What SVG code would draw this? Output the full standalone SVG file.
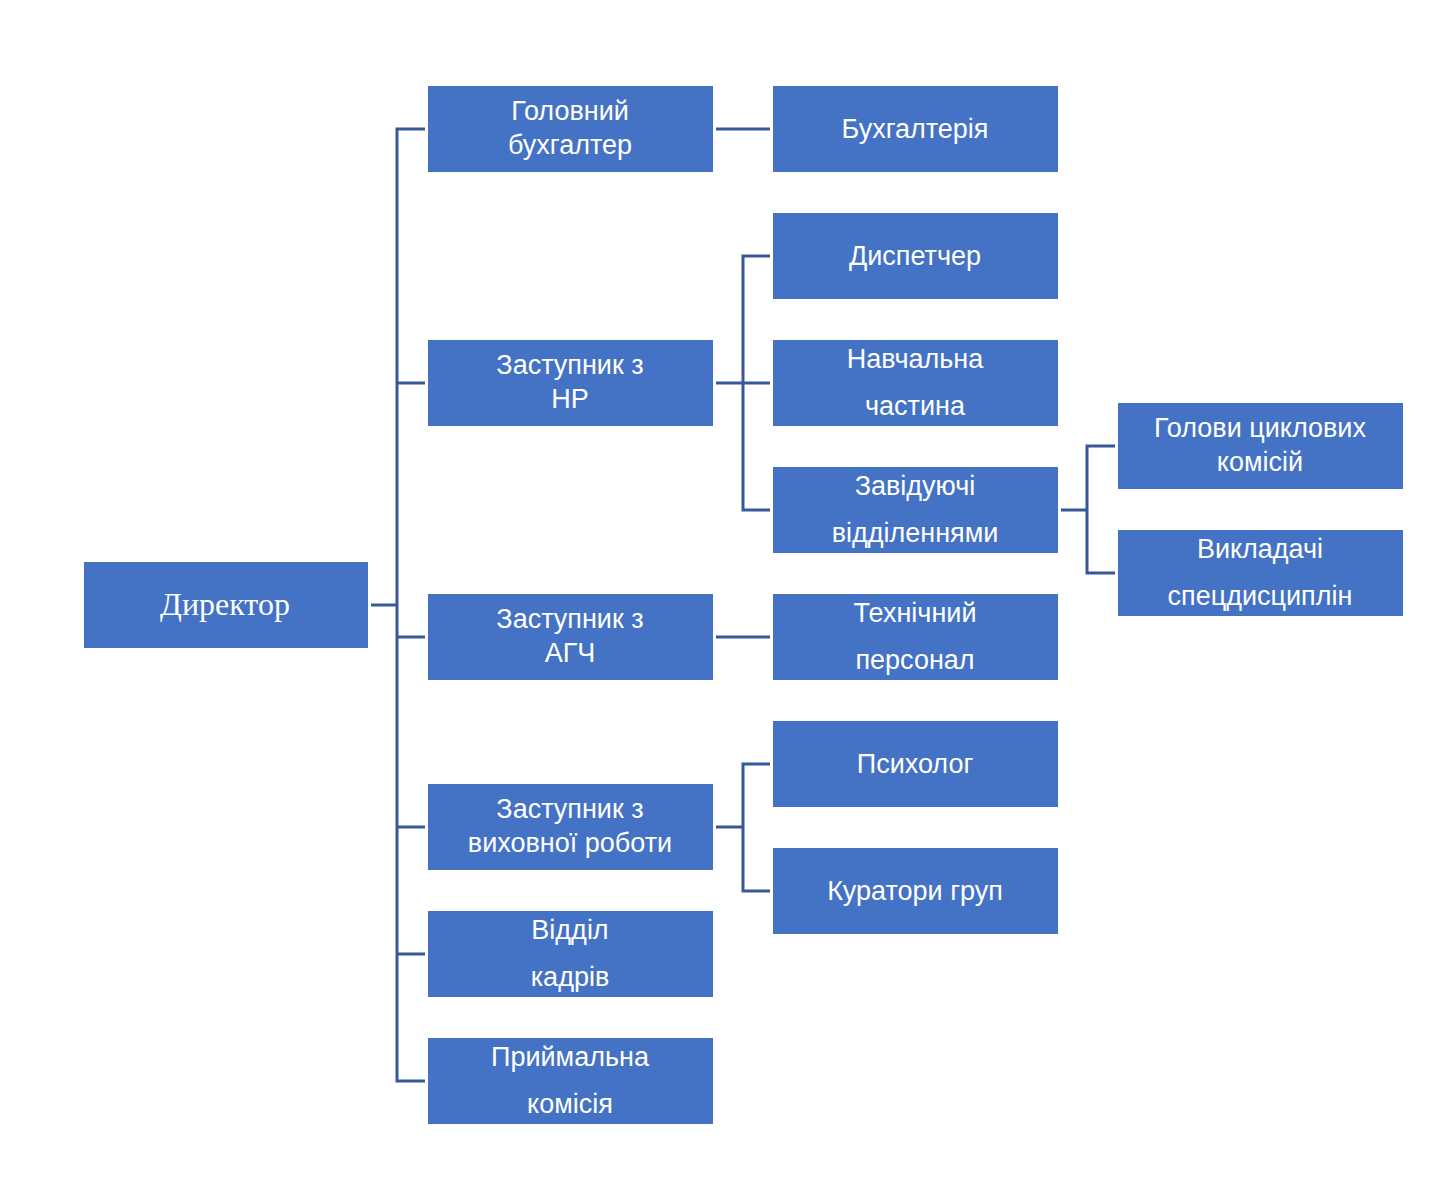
<svg xmlns="http://www.w3.org/2000/svg" width="1448" height="1178" viewBox="0 0 1448 1178">
<style>
.box{fill:#4472C4}
.t{font-family:"Liberation Sans",Arial,sans-serif;font-size:27px;fill:#fff;text-anchor:middle}
.s{font-family:"Liberation Serif","Times New Roman",serif;font-size:32px;fill:#fff;text-anchor:middle}
.c{fill:none;stroke:#36589A;stroke-width:3}
</style>
<rect width="1448" height="1178" fill="#fff"/>
<g id="connectors" class="c">
<path d="M371 605H397"/>
<path d="M425 129H397V1081H425"/>
<path d="M397 383H425M397 637H425M397 827H425M397 954H425"/>
<path d="M716 129H770"/>
<path d="M716 383H770M770 256H743V510H770"/>
<path d="M716 637H770"/>
<path d="M716 827H743M770 764H743V891H770"/>
<path d="M1061 510H1087M1115 446H1087V573H1115"/>
</g>
<g id="director"><rect class="box" x="84" y="562" width="284" height="86"/><text class="s" x="225" y="615">Директор</text></g>
<g id="chief-accountant"><rect class="box" x="428" y="86" width="285" height="86"/><text class="t" x="570" y="120">Головний</text><text class="t" x="570" y="154">бухгалтер</text></g>
<g id="accounting"><rect class="box" x="773" y="86" width="285" height="86"/><text class="t" x="915" y="138">Бухгалтерія</text></g>
<g id="dispatcher"><rect class="box" x="773" y="213" width="285" height="86"/><text class="t" x="915" y="265">Диспетчер</text></g>
<g id="deputy-nr"><rect class="box" x="428" y="340" width="285" height="86"/><text class="t" x="570" y="374">Заступник з</text><text class="t" x="570" y="408">НР</text></g>
<g id="study-part"><rect class="box" x="773" y="340" width="285" height="86"/><text class="t" x="915" y="368">Навчальна</text><text class="t" x="915" y="415">частина</text></g>
<g id="dept-heads"><rect class="box" x="773" y="467" width="285" height="86"/><text class="t" x="915" y="495">Завідуючі</text><text class="t" x="915" y="542">відділеннями</text></g>
<g id="commission-heads"><rect class="box" x="1118" y="403" width="285" height="86"/><text class="t" x="1260" y="437">Голови циклових</text><text class="t" x="1260" y="471">комісій</text></g>
<g id="teachers"><rect class="box" x="1118" y="530" width="285" height="86"/><text class="t" x="1260" y="558">Викладачі</text><text class="t" x="1260" y="605">спецдисциплін</text></g>
<g id="deputy-agch"><rect class="box" x="428" y="594" width="285" height="86"/><text class="t" x="570" y="628">Заступник з</text><text class="t" x="570" y="662">АГЧ</text></g>
<g id="tech-staff"><rect class="box" x="773" y="594" width="285" height="86"/><text class="t" x="915" y="622">Технічний</text><text class="t" x="915" y="669">персонал</text></g>
<g id="psychologist"><rect class="box" x="773" y="721" width="285" height="86"/><text class="t" x="915" y="773">Психолог</text></g>
<g id="deputy-edu"><rect class="box" x="428" y="784" width="285" height="86"/><text class="t" x="570" y="818">Заступник з</text><text class="t" x="570" y="852">виховної роботи</text></g>
<g id="curators"><rect class="box" x="773" y="848" width="285" height="86"/><text class="t" x="915" y="900">Куратори груп</text></g>
<g id="hr"><rect class="box" x="428" y="911" width="285" height="86"/><text class="t" x="570" y="939">Відділ</text><text class="t" x="570" y="986">кадрів</text></g>
<g id="admission"><rect class="box" x="428" y="1038" width="285" height="86"/><text class="t" x="570" y="1066">Приймальна</text><text class="t" x="570" y="1113">комісія</text></g>
</svg>
